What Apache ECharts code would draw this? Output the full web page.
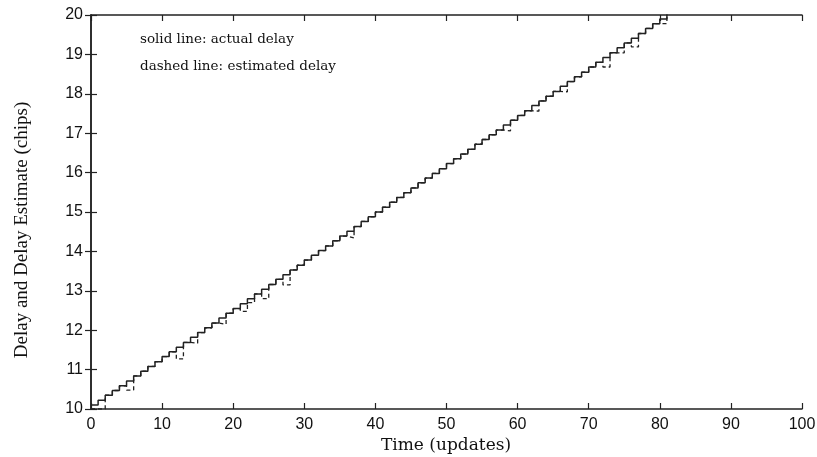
<!DOCTYPE html>
<html>
<head>
<meta charset="utf-8">
<script src="https://cdn.jsdelivr.net/npm/echarts@6/dist/echarts.min.js"></script>
<style>
html,body{margin:0;padding:0;background:#fff;}
#chart{width:817px;height:457px;}
</style>
</head>
<body>
<div id="chart"></div>
<script>
// Time index (updates)
var timeSteps = [0,1,2,3,4,5,6,7,8,9,10,11,12,13,14,15,16,17,18,19,20,21,22,23,24,25,26,27,28,29,30,31,32,33,34,35,36,37,38,39,40,41,42,43,44,45,46,47,48,49,50,51,52,53,54,55,56,57,58,59,60,61,62,63,64,65,66,67,68,69,70,71,72,73,74,75,76,77,78,79,80,81];
// Actual delay (chips), solid line
var actualDelay = [10.10,10.22,10.35,10.47,10.59,10.71,10.84,10.96,11.08,11.20,11.33,11.45,11.57,11.69,11.82,11.94,12.06,12.18,12.31,12.43,12.55,12.67,12.80,12.92,13.04,13.16,13.29,13.41,13.53,13.65,13.78,13.90,14.02,14.14,14.27,14.39,14.51,14.63,14.76,14.88,15.00,15.12,15.25,15.37,15.49,15.61,15.74,15.86,15.98,16.10,16.23,16.35,16.47,16.59,16.72,16.84,16.96,17.08,17.21,17.33,17.45,17.57,17.70,17.82,17.94,18.06,18.19,18.31,18.43,18.55,18.68,18.80,18.92,19.04,19.17,19.29,19.41,19.53,19.66,19.78,19.90,20.02];
// Estimated delay (chips), dashed line
var estimatedDelay = [10.00,10.00,10.35,10.47,10.59,10.48,10.84,10.96,11.08,11.20,11.33,11.45,11.27,11.69,11.67,11.94,12.06,12.18,12.15,12.43,12.55,12.48,12.70,12.92,12.80,13.16,13.29,13.15,13.53,13.65,13.78,13.90,14.02,14.14,14.27,14.39,14.34,14.63,14.76,14.88,15.00,15.12,15.25,15.37,15.49,15.61,15.74,15.86,15.98,16.10,16.23,16.35,16.47,16.59,16.72,16.84,16.96,17.08,17.06,17.33,17.45,17.57,17.56,17.82,17.94,18.06,18.05,18.31,18.43,18.55,18.68,18.80,18.68,19.04,19.04,19.29,19.19,19.53,19.66,19.78,19.78,20.02];
var xTicks = {min:0, max:100, step:10};
var yTicks = {min:10, max:20, step:1};

var chart = echarts.init(document.getElementById('chart'), null, {renderer:'canvas'});
var axisLine = {show:true, lineStyle:{color:'#222', width:1.5}};
var tick = {show:true, inside:true, length:6, lineStyle:{color:'#222', width:1.2}};
var lblFont = {color:'#111', fontFamily:'Liberation Sans, Arial, sans-serif', fontSize:16};
function pairs(ys){ return timeSteps.map(function(t,i){return [t, ys[i]];}); }

chart.setOption({
  animation:false,
  backgroundColor:'#fff',
  grid:{left:91, top:15, width:711, height:394, containLabel:false, outerBoundsMode:'none'},
  xAxis:[
    {type:'value', position:'bottom', min:xTicks.min, max:xTicks.max, interval:xTicks.step,
     axisLine:axisLine, axisTick:tick, splitLine:{show:false},
     axisLabel:Object.assign({margin:8}, lblFont)},
    {type:'value', position:'top', min:xTicks.min, max:xTicks.max, interval:xTicks.step,
     axisLine:axisLine, axisTick:tick, axisLabel:{show:false}, splitLine:{show:false}}
  ],
  yAxis:[
    {type:'value', position:'left', min:yTicks.min, max:yTicks.max, interval:yTicks.step,
     axisLine:axisLine, axisTick:tick, splitLine:{show:false},
     axisLabel:Object.assign({margin:8}, lblFont)},
    {type:'value', position:'right', min:yTicks.min, max:yTicks.max, interval:yTicks.step,
     axisLine:axisLine, axisTick:tick, axisLabel:{show:false}, splitLine:{show:false}}
  ],
  graphic:[
    {type:'text', left:140, top:32, style:{text:'solid line: actual delay', fill:'#111', font:'13.5px "DejaVu Serif", serif'}},
    {type:'text', left:140, top:59, style:{text:'dashed line: estimated delay', fill:'#111', font:'13.5px "DejaVu Serif", serif'}},
    {type:'text', x:446, y:446,
     style:{text:'Time (updates)', fill:'#111', font:'17px "DejaVu Serif", serif', textAlign:'center', textVerticalAlign:'middle'}},
    {type:'text', x:22, y:230, rotation:Math.PI/2,
     style:{text:'Delay and Delay Estimate (chips)', fill:'#111', font:'19px "Liberation Serif", serif', textAlign:'center', textVerticalAlign:'middle'}}
  ],
  series:[
    {type:'line', name:'estimated', data:pairs(estimatedDelay), step:'end', symbol:'none', clip:true,
     lineStyle:{color:'#222', width:1.3, type:[4,3]}, z:2},
    {type:'line', name:'actual', data:pairs(actualDelay), step:'end', symbol:'none', clip:true,
     lineStyle:{color:'#222', width:1.5, type:'solid'}, z:3}
  ]
});
</script>
</body>
</html>
